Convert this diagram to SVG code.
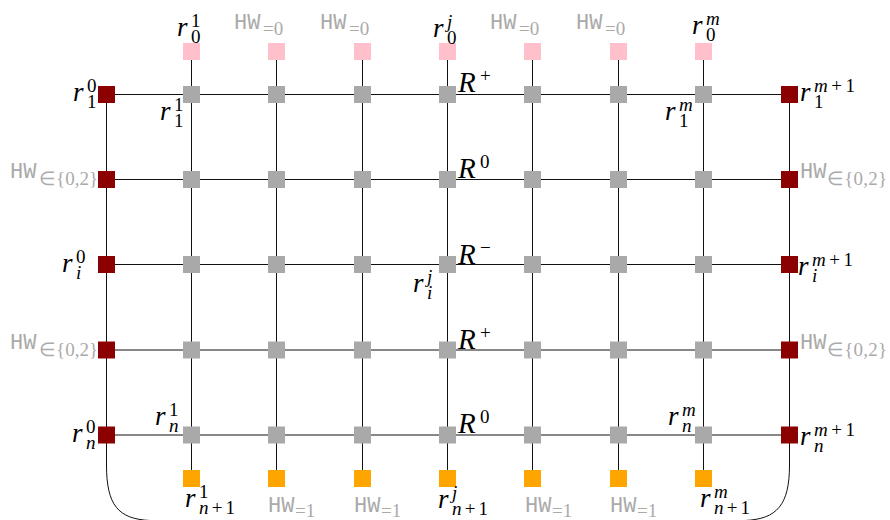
<svg xmlns="http://www.w3.org/2000/svg" width="890" height="520" viewBox="0 0 890 520">
<style>
.ln{stroke:#111;stroke-width:1;fill:none}
.g{fill:#a9a9a9}.red{fill:#8b0000}.pk{fill:#ffc0cb}.or{fill:#ffa500}
.m{font-family:"Liberation Serif","DejaVu Serif",serif;font-style:italic;font-size:27px;fill:#000}
.sc{font-size:19px}
.up{font-style:normal}
.R{font-size:29px}
.hw{font-family:"Liberation Mono",monospace;font-size:22px;fill:#aaa}
.hs{font-family:"Liberation Serif",serif;font-size:19px;fill:#aaa}
</style>
<rect width="890" height="520" fill="#fff"/>
<g id="connectors" class="ln">
  <line x1="106.5" y1="94.5" x2="789.5" y2="94.5"/>
  <line x1="106.5" y1="179.5" x2="789.5" y2="179.5"/>
  <line x1="106.5" y1="264.5" x2="789.5" y2="264.5"/>
  <line x1="106.5" y1="350" x2="789.5" y2="350"/>
  <line x1="106.5" y1="435" x2="789.5" y2="435"/>
  <line x1="191.5" y1="51.5" x2="191.5" y2="478.5"/>
  <line x1="276.5" y1="51.5" x2="276.5" y2="478.5"/>
  <line x1="362.5" y1="51.5" x2="362.5" y2="478.5"/>
  <line x1="447.5" y1="51.5" x2="447.5" y2="478.5"/>
  <line x1="532.5" y1="51.5" x2="532.5" y2="478.5"/>
  <line x1="618.5" y1="51.5" x2="618.5" y2="478.5"/>
  <line x1="703.5" y1="51.5" x2="703.5" y2="478.5"/>
  <path d="M106.5,94.5 V465 C106.5,505 118,519 150,520.5 H745 C777,519 789.5,505 789.5,465 V94.5"/>
</g>
<g id="top">
  <g id="t1"><rect class="pk" x="183" y="43" width="17" height="17"/><text class="m" x="177" y="36">r</text><text class="m sc up" x="191" y="27">1</text><text class="m sc up" x="191" y="43">0</text></g>
  <g id="t2"><rect class="pk" x="268" y="43" width="17" height="17"/><text class="hw" x="234" y="29">HW</text><text class="hs" x="263" y="35">=0</text></g>
  <g id="t3"><rect class="pk" x="354" y="43" width="17" height="17"/><text class="hw" x="320" y="29">HW</text><text class="hs" x="349" y="35">=0</text></g>
  <g id="t4"><rect class="pk" x="439" y="43" width="17" height="17"/><text class="m" x="433" y="37">r</text><text class="m sc" x="447" y="28">j</text><text class="m sc up" x="447" y="44">0</text></g>
  <g id="t5"><rect class="pk" x="524" y="43" width="17" height="17"/><text class="hw" x="490" y="29">HW</text><text class="hs" x="519" y="35">=0</text></g>
  <g id="t6"><rect class="pk" x="610" y="43" width="17" height="17"/><text class="hw" x="576" y="29">HW</text><text class="hs" x="605" y="35">=0</text></g>
  <g id="t7"><rect class="pk" x="695" y="43" width="17" height="17"/><text class="m" x="692" y="34">r</text><text class="m sc" x="706" y="25">m</text><text class="m sc up" x="706" y="41">0</text></g>
</g>
<g id="row1">
  <g id="r1c0"><rect class="red" x="98" y="86" width="17" height="17"/><text class="m" x="73" y="101">r</text><text class="m sc up" x="87" y="92">0</text><text class="m sc up" x="87" y="108">1</text></g>
  <g id="r1c1"><rect class="g" x="183" y="86" width="17" height="17"/><text class="m" x="160" y="120">r</text><text class="m sc up" x="174" y="111">1</text><text class="m sc up" x="174" y="127">1</text></g>
  <g id="r1c2"><rect class="g" x="268" y="86" width="17" height="17"/></g>
  <g id="r1c3"><rect class="g" x="354" y="86" width="17" height="17"/></g>
  <g id="r1c4"><rect class="g" x="439" y="86" width="17" height="17"/><text class="m R" x="458" y="92">R</text><text class="m sc up" x="480" y="82">+</text></g>
  <g id="r1c5"><rect class="g" x="524" y="86" width="17" height="17"/></g>
  <g id="r1c6"><rect class="g" x="610" y="86" width="17" height="17"/></g>
  <g id="r1c7"><rect class="g" x="695" y="86" width="17" height="17"/><text class="m" x="665" y="120">r</text><text class="m sc" x="679" y="111">m</text><text class="m sc up" x="679" y="127">1</text></g>
  <g id="r1c8"><rect class="red" x="781" y="86" width="17" height="17"/><text class="m" x="800" y="101">r</text><text class="m sc" x="814" y="92" textLength="41" lengthAdjust="spacing">m<tspan class="up">+1</tspan></text><text class="m sc up" x="814" y="108">1</text></g>
</g>
<g id="row2">
  <g id="r2c0"><rect class="red" x="98" y="171" width="17" height="17"/><text class="hw" x="10" y="178">HW</text><text class="hs" x="39" y="185" textLength="59" lengthAdjust="spacing">∈{0,2}</text></g>
  <g id="r2c1"><rect class="g" x="183" y="171" width="17" height="17"/></g>
  <g id="r2c2"><rect class="g" x="268" y="171" width="17" height="17"/></g>
  <g id="r2c3"><rect class="g" x="354" y="171" width="17" height="17"/></g>
  <g id="r2c4"><rect class="g" x="439" y="171" width="17" height="17"/><text class="m R" x="458" y="178">R</text><text class="m sc up" x="480" y="168">0</text></g>
  <g id="r2c5"><rect class="g" x="524" y="171" width="17" height="17"/></g>
  <g id="r2c6"><rect class="g" x="610" y="171" width="17" height="17"/></g>
  <g id="r2c7"><rect class="g" x="695" y="171" width="17" height="17"/></g>
  <g id="r2c8"><rect class="red" x="781" y="171" width="17" height="17"/><text class="hw" x="800" y="178">HW</text><text class="hs" x="827" y="185" textLength="60" lengthAdjust="spacing">∈{0,2}</text></g>
</g>
<g id="row3">
  <g id="r3c0"><rect class="red" x="98" y="256" width="17" height="17"/><text class="m" x="62" y="272">r</text><text class="m sc up" x="76" y="263">0</text><text class="m sc" x="76" y="279">i</text></g>
  <g id="r3c1"><rect class="g" x="183" y="256" width="17" height="17"/></g>
  <g id="r3c2"><rect class="g" x="268" y="256" width="17" height="17"/></g>
  <g id="r3c3"><rect class="g" x="354" y="256" width="17" height="17"/></g>
  <g id="r3c4"><rect class="g" x="439" y="256" width="17" height="17"/><text class="m R" x="458" y="264">R</text><text class="m sc up" x="480" y="254">−</text><text class="m" x="413" y="292">r</text><text class="m sc" x="427" y="283">j</text><text class="m sc" x="427" y="299">i</text></g>
  <g id="r3c5"><rect class="g" x="524" y="256" width="17" height="17"/></g>
  <g id="r3c6"><rect class="g" x="610" y="256" width="17" height="17"/></g>
  <g id="r3c7"><rect class="g" x="695" y="256" width="17" height="17"/></g>
  <g id="r3c8"><rect class="red" x="781" y="256" width="17" height="17"/><text class="m" x="798" y="275">r</text><text class="m sc" x="812" y="266" textLength="41" lengthAdjust="spacing">m<tspan class="up">+1</tspan></text><text class="m sc" x="812" y="282">i</text></g>
</g>
<g id="row4">
  <g id="r4c0"><rect class="red" x="98" y="341.5" width="17" height="17"/><text class="hw" x="10" y="349">HW</text><text class="hs" x="39" y="356" textLength="59" lengthAdjust="spacing">∈{0,2}</text></g>
  <g id="r4c1"><rect class="g" x="183" y="341.5" width="17" height="17"/></g>
  <g id="r4c2"><rect class="g" x="268" y="341.5" width="17" height="17"/></g>
  <g id="r4c3"><rect class="g" x="354" y="341.5" width="17" height="17"/></g>
  <g id="r4c4"><rect class="g" x="439" y="341.5" width="17" height="17"/><text class="m R" x="458" y="349">R</text><text class="m sc up" x="480" y="339">+</text></g>
  <g id="r4c5"><rect class="g" x="524" y="341.5" width="17" height="17"/></g>
  <g id="r4c6"><rect class="g" x="610" y="341.5" width="17" height="17"/></g>
  <g id="r4c7"><rect class="g" x="695" y="341.5" width="17" height="17"/></g>
  <g id="r4c8"><rect class="red" x="781" y="341.5" width="17" height="17"/><text class="hw" x="800" y="349">HW</text><text class="hs" x="827" y="356" textLength="60" lengthAdjust="spacing">∈{0,2}</text></g>
</g>
<g id="row5">
  <g id="r5c0"><rect class="red" x="98" y="426.5" width="17" height="17"/><text class="m" x="72" y="442">r</text><text class="m sc up" x="86" y="433">0</text><text class="m sc" x="86" y="449">n</text></g>
  <g id="r5c1"><rect class="g" x="183" y="426.5" width="17" height="17"/><text class="m" x="155" y="425">r</text><text class="m sc up" x="169" y="416">1</text><text class="m sc" x="169" y="432">n</text></g>
  <g id="r5c2"><rect class="g" x="268" y="426.5" width="17" height="17"/></g>
  <g id="r5c3"><rect class="g" x="354" y="426.5" width="17" height="17"/></g>
  <g id="r5c4"><rect class="g" x="439" y="426.5" width="17" height="17"/><text class="m R" x="458" y="433">R</text><text class="m sc up" x="480" y="423">0</text></g>
  <g id="r5c5"><rect class="g" x="524" y="426.5" width="17" height="17"/></g>
  <g id="r5c6"><rect class="g" x="610" y="426.5" width="17" height="17"/></g>
  <g id="r5c7"><rect class="g" x="695" y="426.5" width="17" height="17"/><text class="m" x="668" y="425">r</text><text class="m sc" x="682" y="416">m</text><text class="m sc" x="682" y="432">n</text></g>
  <g id="r5c8"><rect class="red" x="781" y="426.5" width="17" height="17"/><text class="m" x="800" y="445">r</text><text class="m sc" x="814" y="436" textLength="41" lengthAdjust="spacing">m<tspan class="up">+1</tspan></text><text class="m sc" x="814" y="452">n</text></g>
</g>
<g id="bottom">
  <g id="b1"><rect class="or" x="183" y="470" width="17" height="17"/><text class="m" x="185" y="507">r</text><text class="m sc up" x="199" y="498">1</text><text class="m sc" x="199" y="514" textLength="36" lengthAdjust="spacing">n<tspan class="up">+1</tspan></text></g>
  <g id="b2"><rect class="or" x="268" y="470" width="17" height="17"/><text class="hw" x="268" y="512">HW</text><text class="hs" x="295" y="517">=1</text></g>
  <g id="b3"><rect class="or" x="354" y="470" width="17" height="17"/><text class="hw" x="354" y="512">HW</text><text class="hs" x="381" y="517">=1</text></g>
  <g id="b4"><rect class="or" x="439" y="470" width="17" height="17"/><text class="m" x="438" y="508">r</text><text class="m sc" x="452" y="499">j</text><text class="m sc" x="452" y="515" textLength="36" lengthAdjust="spacing">n<tspan class="up">+1</tspan></text></g>
  <g id="b5"><rect class="or" x="524" y="470" width="17" height="17"/><text class="hw" x="525" y="512">HW</text><text class="hs" x="552" y="517">=1</text></g>
  <g id="b6"><rect class="or" x="610" y="470" width="17" height="17"/><text class="hw" x="610" y="512">HW</text><text class="hs" x="637" y="517">=1</text></g>
  <g id="b7"><rect class="or" x="695" y="470" width="17" height="17"/><text class="m" x="700" y="507">r</text><text class="m sc" x="714" y="498">m</text><text class="m sc" x="714" y="514" textLength="36" lengthAdjust="spacing">n<tspan class="up">+1</tspan></text></g>
</g>
</svg>
